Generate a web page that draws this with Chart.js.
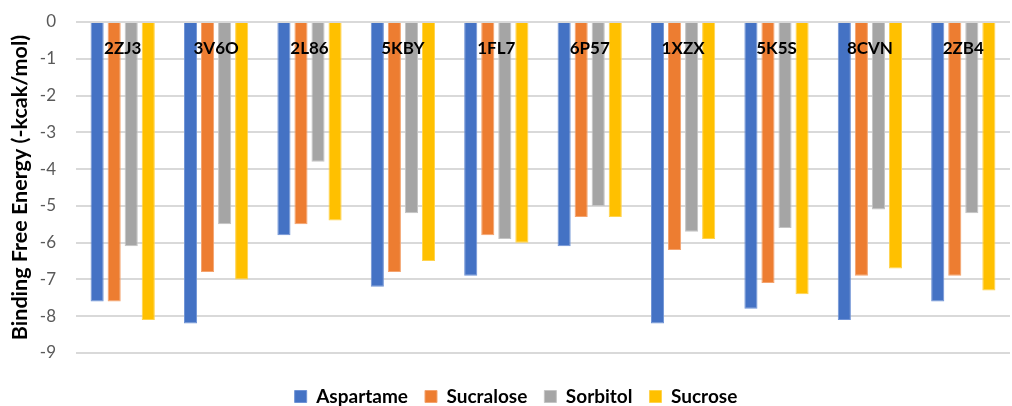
<!DOCTYPE html>
<html>
<head>
<meta charset="utf-8">
<style>
  html, body { margin: 0; padding: 0; background: #ffffff; }
  #wrap { width: 1012px; height: 406px; position: relative; }
</style>
<script src="https://cdn.jsdelivr.net/npm/chart.js@4/dist/chart.umd.min.js"></script>
</head>
<body>
<div id="wrap"><canvas id="chart" width="1012" height="406"></canvas></div>
<script>
// PDB targets and docking scores (binding free energy, kcal/mol)
const categories = ['2ZJ3', '3V6O', '2L86', '5KBY', '1FL7', '6P57', '1XZX', '5K5S', '8CVN', '2ZB4'];
const aspartame = [-7.6, -8.2, -5.8, -7.2, -6.9, -6.1, -8.2, -7.8, -8.1, -7.6];
const sucralose = [-7.6, -6.8, -5.5, -6.8, -5.8, -5.3, -6.2, -7.1, -6.9, -6.9];
const sorbitol  = [-6.1, -5.5, -3.8, -5.2, -5.9, -5.0, -5.7, -5.6, -5.1, -5.2];
const sucrose   = [-8.1, -7.0, -5.4, -6.5, -6.0, -5.3, -5.9, -7.4, -6.7, -7.3];
const yTicks = [-9, -8, -7, -6, -5, -4, -3, -2, -1, 0];

const FONT = 'Lato, "Open Sans", "DejaVu Sans", sans-serif';

function series(label, data, color, border) {
  return {
    label, data,
    backgroundColor: color,
    borderColor: border,
    borderWidth: 1,
    categoryPercentage: 0.73,
    barPercentage: 0.77
  };
}

// Category names drawn just below the zero line, centred on each group
const categoryLabels = {
  id: 'categoryLabels',
  afterDatasetsDraw(chart) {
    const { ctx, scales: { x, y } } = chart;
    ctx.save();
    ctx.font = 'bold 17px ' + FONT;
    ctx.fillStyle = '#000000';
    ctx.textAlign = 'center';
    ctx.textBaseline = 'middle';
    const yPos = y.getPixelForValue(0) + 27;
    categories.forEach((c, i) => {
      ctx.fillText(c, x.getPixelForValue(i), yPos);
    });
    ctx.restore();
  }
};

// Nudge the legend row down and right, under the middle of the plot
const legendOffset = {
  id: 'legendOffset',
  afterLayout(chart) {
    const lg = chart.legend;
    if (lg) {
      lg.top += 17; lg.bottom += 17;
      lg.left += 11; lg.right += 11;
    }
  }
};

new Chart(document.getElementById('chart'), {
  type: 'bar',
  data: {
    labels: categories,
    datasets: [
      series('Aspartame', aspartame, '#4472c4', '#6f93d6'),
      series('Sucralose', sucralose, '#ed7d31', '#f4a36e'),
      series('Sorbitol', sorbitol, '#a5a5a5', '#c4c4c4'),
      series('Sucrose', sucrose, '#ffc000', '#ffd34d')
    ]
  },
  options: {
    responsive: false,
    animation: false,
    layout: { autoPadding: false, padding: { top: 22, right: 2, left: 0, bottom: 7 } },
    plugins: {
      tooltip: { enabled: false },
      legend: {
        position: 'bottom',
        labels: {
          font: { family: FONT, size: 19, weight: 'bold' },
          color: '#000000',
          boxWidth: 12,
          boxHeight: 12,
          padding: 17
        }
      }
    },
    scales: {
      x: {
        display: false,
        grid: { display: false }
      },
      y: {
        min: -9,
        max: 0,
        afterBuildTicks(scale) {
          scale.ticks = yTicks.map(v => ({ value: v }));
        },
        afterFit(scale) {
          scale.width = 76;
          scale.paddingTop = 0;
          scale.paddingBottom = 0;
        },
        grid: { color: '#d9d9d9', lineWidth: 2, drawTicks: false },
        border: { display: false },
        ticks: {
          color: '#595959',
          font: { family: FONT, size: 17 },
          padding: 20
        },
        title: {
          display: true,
          text: 'Binding Free Energy (-kcak/mol)',
          color: '#000000',
          font: { family: FONT, size: 21.5, weight: 'bold' },
          padding: { top: 7, bottom: 4 }
        }
      }
    }
  },
  plugins: [categoryLabels, legendOffset]
});
</script>
</body>
</html>
